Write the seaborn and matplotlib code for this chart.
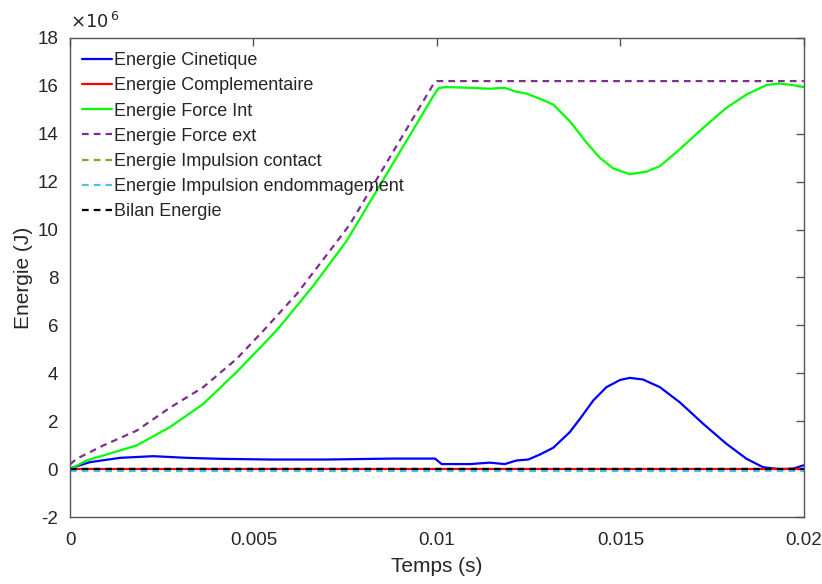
import matplotlib
matplotlib.use("Agg")
import matplotlib.pyplot as plt
import seaborn as sns

# Energies in units of 1e6 J
t_cin = [0, 0.00054, 0.00136, 0.00227, 0.00318, 0.00409, 0.00545, 0.007, 0.0088, 0.00995,
         0.01013, 0.0109, 0.01144, 0.01185, 0.01217, 0.01249, 0.01281, 0.01317, 0.01362,
         0.0139, 0.01426, 0.01462, 0.01499, 0.01526, 0.01562, 0.01608, 0.01662, 0.01726,
         0.01789, 0.01844, 0.01889, 0.01935, 0.01971, 0.02]
e_cin = [0.03, 0.29, 0.47, 0.54, 0.47, 0.43, 0.40, 0.40, 0.44, 0.44,
         0.21, 0.21, 0.27, 0.21, 0.36, 0.40, 0.61, 0.89, 1.54,
         2.1, 2.86, 3.42, 3.72, 3.81, 3.74, 3.42, 2.79, 1.89,
         1.06, 0.43, 0.08, 0.0, 0.02, 0.16]

t_int = [0, 0.00045, 0.00091, 0.00182, 0.00272, 0.00363, 0.00454, 0.00545, 0.00572, 0.00663,
         0.00754, 0.00817, 0.00845, 0.00935, 0.0099, 0.01004, 0.01022, 0.0109, 0.01144,
         0.01185, 0.01217, 0.01244, 0.01281, 0.01317, 0.01362, 0.01408, 0.01444, 0.0148,
         0.01526, 0.01571, 0.01608, 0.01662, 0.01726, 0.01789, 0.01844, 0.01898, 0.01935,
         0.01971, 0.02]
e_int = [0, 0.36, 0.57, 0.99, 1.75, 2.72, 4.05, 5.5, 5.95, 7.65,
         9.53, 11.14, 11.86, 14.16, 15.57, 15.9, 15.95, 15.92, 15.88,
         15.92, 15.75, 15.68, 15.46, 15.22, 14.53, 13.63, 13.0, 12.56,
         12.31, 12.42, 12.65, 13.35, 14.25, 15.08, 15.64, 16.03, 16.1,
         16.03, 15.95]

t_ext = [0, 0.00018, 0.00091, 0.00182, 0.00272, 0.00363, 0.00454, 0.00527, 0.00618, 0.00708,
         0.00763, 0.00808, 0.00845, 0.00935, 0.0099, 0.01, 0.02]
e_ext = [0.2, 0.43, 0.99, 1.61, 2.56, 3.42, 4.6, 5.78, 7.31, 9.11,
         10.22, 11.38, 12.33, 14.65, 16.06, 16.2, 16.2]

t_flat = [0, 0.02]
e_comp = [0, 0]
e_contact = [0, 0]
e_endo = [-0.06, -0.06]
e_bilan = [0, 0]

sns.set_style("white")
plt.rcParams['font.family'] = ['Liberation Sans', 'DejaVu Sans']
plt.rcParams['axes.unicode_minus'] = False

fig = plt.figure(figsize=(8.22, 5.84), dpi=100)
ax = fig.add_axes([0.0852, 0.1147, 0.8926, 0.8203])

lw = 1.6
dash = (3, 2.3)
sns.lineplot(x=t_cin, y=e_cin, color=(0, 0, 1), lw=lw, label='Energie Cinetique', ax=ax)
sns.lineplot(x=t_flat, y=e_comp, color=(1, 0, 0), lw=lw, label='Energie Complementaire', ax=ax)
sns.lineplot(x=t_int, y=e_int, color=(0, 1, 0), lw=lw, label='Energie Force Int', ax=ax)
sns.lineplot(x=t_ext, y=e_ext, color='#7E2F8E', lw=lw, label='Energie Force ext', ax=ax)
sns.lineplot(x=t_flat, y=e_contact, color='#77AC30', lw=lw, label='Energie Impulsion contact', ax=ax)
sns.lineplot(x=t_flat, y=e_endo, color='#4DBEEE', lw=lw, label='Energie Impulsion endommagement', ax=ax)
sns.lineplot(x=t_flat, y=e_bilan, color='k', lw=lw, label='Bilan Energie', ax=ax)
for i in (3, 4, 5, 6):
    ax.lines[i].set_linestyle((0, dash))

ax.set_xlim(0, 0.02)
ax.set_ylim(-2, 18)
ax.set_xticks([0, 0.005, 0.01, 0.015, 0.02])
ax.set_xticklabels(['0', '0.005', '0.01', '0.015', '0.02'])
ax.set_yticks(range(-2, 19, 2))
ax.tick_params(direction='in', length=6, width=1, colors='#555555', labelcolor='#262626',
               labelsize=13.5, top=True, right=True)
ax.tick_params(axis='x', pad=10.5)
ax.tick_params(axis='y', pad=8.5)
for s in ax.spines.values():
    s.set_color('#555555')
    s.set_linewidth(1)
    s.set_visible(True)

ax.set_xlabel('Temps (s)', fontsize=15, color='#262626', labelpad=6)
ax.set_ylabel('Energie (J)', fontsize=15, color='#262626', labelpad=3)
ax.text(0.0, 1.012, r'$\times 10^{\,6}$', transform=ax.transAxes, fontsize=13,
        color='#262626', va='bottom', ha='left', math_fontfamily='dejavusans')

leg = ax.legend(loc='upper left', bbox_to_anchor=(0.0065, 0.985), frameon=False, fontsize=13,
                handlelength=1.66, handletextpad=0.13, labelspacing=0.45, borderaxespad=0)
for h in leg.get_lines():
    h.set_linewidth(1.6)

fig.savefig('out.png', dpi=100)
